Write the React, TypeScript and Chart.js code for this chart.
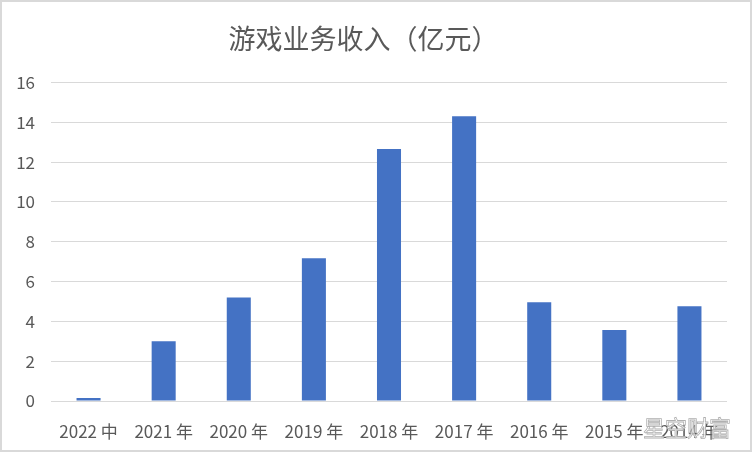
import React, { useEffect, useRef } from "react";
import { Chart, registerables } from "chart.js";

Chart.register(...registerables);

const titleText = "游戏业务收入（亿元）";
const categories = ["2022 中", "2021 年", "2020 年", "2019 年", "2018 年", "2017 年", "2016 年", "2015 年", "2014 年"];
const revenue = [0.15, 3.0, 5.2, 7.17, 12.65, 14.3, 4.96, 3.56, 4.76];
const yMin = 0;
const yMax = 16;
const yStep = 2;
const watermark = "星空财富";

const FONT = "'Liberation Sans Narrow', 'Noto Sans CJK SC', sans-serif";
const TEXT = "#595959";

const frame = {
  id: "frame",
  beforeDraw(chart: any) {
    const { ctx, width, height } = chart;
    ctx.save();
    ctx.fillStyle = "#ffffff";
    ctx.fillRect(0, 0, width, height);
    ctx.strokeStyle = "#d9d9d9";
    ctx.lineWidth = 2;
    ctx.strokeRect(1, 1, width - 2, height - 2);
    ctx.restore();
  },
};

export default function App() {
  const ref = useRef<HTMLCanvasElement | null>(null);

  useEffect(() => {
    if (!ref.current) return;
    const chart = new Chart(ref.current, {
      type: "bar",
      data: {
        labels: categories,
        datasets: [
          {
            data: revenue,
            backgroundColor: "#4472C4",
            barPercentage: 0.32,
            categoryPercentage: 1,
          },
        ],
      },
      options: {
        responsive: false,
        animation: false,
        layout: { padding: { left: 0, right: 25, top: 0, bottom: 0 } },
        plugins: {
          legend: { display: false },
          tooltip: { enabled: false },
          title: {
            display: true,
            text: titleText,
            color: TEXT,
            font: { family: "'Noto Sans CJK SC', sans-serif", size: 27, weight: "normal" },
            padding: { top: 23, bottom: 27 },
          },
        },
        scales: {
          x: {
            grid: { display: false },
            border: { display: false },
            ticks: {
              color: TEXT,
              font: { family: FONT, size: 17 },
              padding: 12,
              maxRotation: 0,
              autoSkip: false,
            },
            afterFit(scale: any) {
              scale.height = 51;
            },
          },
          y: {
            min: yMin,
            max: yMax,
            grid: { color: "#d9d9d9", drawTicks: false, lineWidth: 1 },
            border: { display: false },
            ticks: {
              stepSize: yStep,
              color: TEXT,
              font: { family: FONT, size: 17 },
              padding: 16,
            },
            afterFit(scale: any) {
              scale.width = 51;
            },
          },
        },
      },
      plugins: [frame],
    });
    return () => chart.destroy();
  }, []);

  return (
    <div style={{ position: "absolute", left: 0, top: 0, width: 752, height: 452 }}>
      <canvas ref={ref} width={752} height={452} />
      <div
        style={{
          position: "absolute",
          left: 643,
          top: 410,
          fontFamily: "'Noto Sans CJK SC', sans-serif",
          fontSize: 22,
          color: "rgba(255,255,255,0.85)",
          WebkitTextStroke: "0.8px #b0b0b0",
          whiteSpace: "nowrap",
        }}
      >
        {watermark}
      </div>
    </div>
  );
}
